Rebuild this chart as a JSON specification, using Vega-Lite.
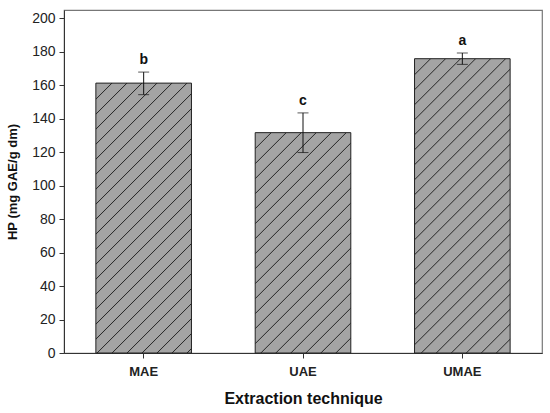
{
  "$schema": "https://vega.github.io/schema/vega-lite/v6.json",
  "width": 478,
  "height": 343,
  "autosize": "none",
  "padding": {"left": 64, "top": 10, "right": 8, "bottom": 60},
  "config": {
    "font": "Liberation Sans",
    "view": {"stroke": "#777", "strokeWidth": 1.2},
    "axis": {"grid": false, "domainColor": "#333", "tickColor": "#333", "tickSize": 5, "labelColor": "#222", "titleColor": "#111"},
    "axisY": {"values": [0, 20, 40, 60, 80, 100, 120, 140, 160, 180, 200], "labelFontSize": 14, "labelPadding": 4, "titleFontSize": 13, "titleFontWeight": "bold", "titlePadding": 12}
  },
  "data": {
    "values": [
      {"technique": "MAE", "hp": 161.3, "lo": 154.4, "hi": 167.9, "group": "b"},
      {"technique": "UAE", "hp": 131.7, "lo": 119.8, "hi": 143.5, "group": "c"},
      {"technique": "UMAE", "hp": 175.9, "lo": 172.5, "hi": 179.3, "group": "a"}
    ]
  },
  "encoding": {
    "x": {
      "field": "technique",
      "type": "nominal",
      "title": "Extraction technique",
      "scale": {"paddingInner": 0.4, "paddingOuter": 0.2},
      "axis": {"labelAngle": 0, "labelFontSize": 13, "labelFontWeight": "bold", "labelPadding": 7, "titleFontSize": 16, "titleFontWeight": "bold", "titlePadding": 12}
    }
  },
  "layer": [
    {
      "mark": {"type": "bar", "stroke": "#222", "strokeWidth": 1},
      "encoding": {
        "y": {
          "field": "hp",
          "type": "quantitative",
          "title": "HP (mg GAE/g dm)",
          "scale": {"domain": [0, 205], "nice": false}
        },
        "fill": {
          "condition": [
            {"test": "datum.technique === 'MAE'", "value": {"gradient": "linear", "x1": 0, "y1": 0, "x2": 0.4897, "y2": 1.3827, "stops": [
              {"offset": 0, "color": "#a4a4a4"},
              {"offset": 0.0357, "color": "#a4a4a4"}, {"offset": 0.0382, "color": "#2a2a2a"}, {"offset": 0.0407, "color": "#a4a4a4"},
              {"offset": 0.0714, "color": "#a4a4a4"}, {"offset": 0.0739, "color": "#2a2a2a"}, {"offset": 0.0764, "color": "#a4a4a4"},
              {"offset": 0.1071, "color": "#a4a4a4"}, {"offset": 0.1096, "color": "#2a2a2a"}, {"offset": 0.1121, "color": "#a4a4a4"},
              {"offset": 0.1429, "color": "#a4a4a4"}, {"offset": 0.1454, "color": "#2a2a2a"}, {"offset": 0.1479, "color": "#a4a4a4"},
              {"offset": 0.1786, "color": "#a4a4a4"}, {"offset": 0.1811, "color": "#2a2a2a"}, {"offset": 0.1836, "color": "#a4a4a4"},
              {"offset": 0.2143, "color": "#a4a4a4"}, {"offset": 0.2168, "color": "#2a2a2a"}, {"offset": 0.2193, "color": "#a4a4a4"},
              {"offset": 0.25, "color": "#a4a4a4"}, {"offset": 0.2525, "color": "#2a2a2a"}, {"offset": 0.255, "color": "#a4a4a4"},
              {"offset": 0.2857, "color": "#a4a4a4"}, {"offset": 0.2882, "color": "#2a2a2a"}, {"offset": 0.2907, "color": "#a4a4a4"},
              {"offset": 0.3214, "color": "#a4a4a4"}, {"offset": 0.3239, "color": "#2a2a2a"}, {"offset": 0.3264, "color": "#a4a4a4"},
              {"offset": 0.3571, "color": "#a4a4a4"}, {"offset": 0.3596, "color": "#2a2a2a"}, {"offset": 0.3621, "color": "#a4a4a4"},
              {"offset": 0.3929, "color": "#a4a4a4"}, {"offset": 0.3954, "color": "#2a2a2a"}, {"offset": 0.3979, "color": "#a4a4a4"},
              {"offset": 0.4286, "color": "#a4a4a4"}, {"offset": 0.4311, "color": "#2a2a2a"}, {"offset": 0.4336, "color": "#a4a4a4"},
              {"offset": 0.4643, "color": "#a4a4a4"}, {"offset": 0.4668, "color": "#2a2a2a"}, {"offset": 0.4693, "color": "#a4a4a4"},
              {"offset": 0.5, "color": "#a4a4a4"}, {"offset": 0.5025, "color": "#2a2a2a"}, {"offset": 0.505, "color": "#a4a4a4"},
              {"offset": 0.5357, "color": "#a4a4a4"}, {"offset": 0.5382, "color": "#2a2a2a"}, {"offset": 0.5407, "color": "#a4a4a4"},
              {"offset": 0.5714, "color": "#a4a4a4"}, {"offset": 0.5739, "color": "#2a2a2a"}, {"offset": 0.5764, "color": "#a4a4a4"},
              {"offset": 0.6071, "color": "#a4a4a4"}, {"offset": 0.6096, "color": "#2a2a2a"}, {"offset": 0.6121, "color": "#a4a4a4"},
              {"offset": 0.6429, "color": "#a4a4a4"}, {"offset": 0.6454, "color": "#2a2a2a"}, {"offset": 0.6479, "color": "#a4a4a4"},
              {"offset": 0.6786, "color": "#a4a4a4"}, {"offset": 0.6811, "color": "#2a2a2a"}, {"offset": 0.6836, "color": "#a4a4a4"},
              {"offset": 0.7143, "color": "#a4a4a4"}, {"offset": 0.7168, "color": "#2a2a2a"}, {"offset": 0.7193, "color": "#a4a4a4"},
              {"offset": 0.75, "color": "#a4a4a4"}, {"offset": 0.7525, "color": "#2a2a2a"}, {"offset": 0.755, "color": "#a4a4a4"},
              {"offset": 0.7857, "color": "#a4a4a4"}, {"offset": 0.7882, "color": "#2a2a2a"}, {"offset": 0.7907, "color": "#a4a4a4"},
              {"offset": 0.8214, "color": "#a4a4a4"}, {"offset": 0.8239, "color": "#2a2a2a"}, {"offset": 0.8264, "color": "#a4a4a4"},
              {"offset": 0.8571, "color": "#a4a4a4"}, {"offset": 0.8596, "color": "#2a2a2a"}, {"offset": 0.8621, "color": "#a4a4a4"},
              {"offset": 0.8929, "color": "#a4a4a4"}, {"offset": 0.8954, "color": "#2a2a2a"}, {"offset": 0.8979, "color": "#a4a4a4"},
              {"offset": 0.9286, "color": "#a4a4a4"}, {"offset": 0.9311, "color": "#2a2a2a"}, {"offset": 0.9336, "color": "#a4a4a4"},
              {"offset": 0.9643, "color": "#a4a4a4"}, {"offset": 0.9668, "color": "#2a2a2a"}, {"offset": 0.9693, "color": "#a4a4a4"},
              {"offset": 1, "color": "#a4a4a4"}
            ]}},
            {"test": "datum.technique === 'UAE'", "value": {"gradient": "linear", "x1": 0, "y1": 0, "x2": 0.6957, "y2": 1.6039, "stops": [
              {"offset": 0, "color": "#a4a4a4"},
              {"offset": 0.0357, "color": "#a4a4a4"}, {"offset": 0.0382, "color": "#2a2a2a"}, {"offset": 0.0407, "color": "#a4a4a4"},
              {"offset": 0.0714, "color": "#a4a4a4"}, {"offset": 0.0739, "color": "#2a2a2a"}, {"offset": 0.0764, "color": "#a4a4a4"},
              {"offset": 0.1071, "color": "#a4a4a4"}, {"offset": 0.1096, "color": "#2a2a2a"}, {"offset": 0.1121, "color": "#a4a4a4"},
              {"offset": 0.1429, "color": "#a4a4a4"}, {"offset": 0.1454, "color": "#2a2a2a"}, {"offset": 0.1479, "color": "#a4a4a4"},
              {"offset": 0.1786, "color": "#a4a4a4"}, {"offset": 0.1811, "color": "#2a2a2a"}, {"offset": 0.1836, "color": "#a4a4a4"},
              {"offset": 0.2143, "color": "#a4a4a4"}, {"offset": 0.2168, "color": "#2a2a2a"}, {"offset": 0.2193, "color": "#a4a4a4"},
              {"offset": 0.25, "color": "#a4a4a4"}, {"offset": 0.2525, "color": "#2a2a2a"}, {"offset": 0.255, "color": "#a4a4a4"},
              {"offset": 0.2857, "color": "#a4a4a4"}, {"offset": 0.2882, "color": "#2a2a2a"}, {"offset": 0.2907, "color": "#a4a4a4"},
              {"offset": 0.3214, "color": "#a4a4a4"}, {"offset": 0.3239, "color": "#2a2a2a"}, {"offset": 0.3264, "color": "#a4a4a4"},
              {"offset": 0.3571, "color": "#a4a4a4"}, {"offset": 0.3596, "color": "#2a2a2a"}, {"offset": 0.3621, "color": "#a4a4a4"},
              {"offset": 0.3929, "color": "#a4a4a4"}, {"offset": 0.3954, "color": "#2a2a2a"}, {"offset": 0.3979, "color": "#a4a4a4"},
              {"offset": 0.4286, "color": "#a4a4a4"}, {"offset": 0.4311, "color": "#2a2a2a"}, {"offset": 0.4336, "color": "#a4a4a4"},
              {"offset": 0.4643, "color": "#a4a4a4"}, {"offset": 0.4668, "color": "#2a2a2a"}, {"offset": 0.4693, "color": "#a4a4a4"},
              {"offset": 0.5, "color": "#a4a4a4"}, {"offset": 0.5025, "color": "#2a2a2a"}, {"offset": 0.505, "color": "#a4a4a4"},
              {"offset": 0.5357, "color": "#a4a4a4"}, {"offset": 0.5382, "color": "#2a2a2a"}, {"offset": 0.5407, "color": "#a4a4a4"},
              {"offset": 0.5714, "color": "#a4a4a4"}, {"offset": 0.5739, "color": "#2a2a2a"}, {"offset": 0.5764, "color": "#a4a4a4"},
              {"offset": 0.6071, "color": "#a4a4a4"}, {"offset": 0.6096, "color": "#2a2a2a"}, {"offset": 0.6121, "color": "#a4a4a4"},
              {"offset": 0.6429, "color": "#a4a4a4"}, {"offset": 0.6454, "color": "#2a2a2a"}, {"offset": 0.6479, "color": "#a4a4a4"},
              {"offset": 0.6786, "color": "#a4a4a4"}, {"offset": 0.6811, "color": "#2a2a2a"}, {"offset": 0.6836, "color": "#a4a4a4"},
              {"offset": 0.7143, "color": "#a4a4a4"}, {"offset": 0.7168, "color": "#2a2a2a"}, {"offset": 0.7193, "color": "#a4a4a4"},
              {"offset": 0.75, "color": "#a4a4a4"}, {"offset": 0.7525, "color": "#2a2a2a"}, {"offset": 0.755, "color": "#a4a4a4"},
              {"offset": 0.7857, "color": "#a4a4a4"}, {"offset": 0.7882, "color": "#2a2a2a"}, {"offset": 0.7907, "color": "#a4a4a4"},
              {"offset": 0.8214, "color": "#a4a4a4"}, {"offset": 0.8239, "color": "#2a2a2a"}, {"offset": 0.8264, "color": "#a4a4a4"},
              {"offset": 0.8571, "color": "#a4a4a4"}, {"offset": 0.8596, "color": "#2a2a2a"}, {"offset": 0.8621, "color": "#a4a4a4"},
              {"offset": 0.8929, "color": "#a4a4a4"}, {"offset": 0.8954, "color": "#2a2a2a"}, {"offset": 0.8979, "color": "#a4a4a4"},
              {"offset": 0.9286, "color": "#a4a4a4"}, {"offset": 0.9311, "color": "#2a2a2a"}, {"offset": 0.9336, "color": "#a4a4a4"},
              {"offset": 0.9643, "color": "#a4a4a4"}, {"offset": 0.9668, "color": "#2a2a2a"}, {"offset": 0.9693, "color": "#a4a4a4"},
              {"offset": 1, "color": "#a4a4a4"}
            ]}}
          ],
          "value": {"gradient": "linear", "x1": 0, "y1": 0, "x2": 0.4193, "y2": 1.2909, "stops": [
            {"offset": 0, "color": "#a4a4a4"},
            {"offset": 0.0357, "color": "#a4a4a4"}, {"offset": 0.0382, "color": "#2a2a2a"}, {"offset": 0.0407, "color": "#a4a4a4"},
            {"offset": 0.0714, "color": "#a4a4a4"}, {"offset": 0.0739, "color": "#2a2a2a"}, {"offset": 0.0764, "color": "#a4a4a4"},
            {"offset": 0.1071, "color": "#a4a4a4"}, {"offset": 0.1096, "color": "#2a2a2a"}, {"offset": 0.1121, "color": "#a4a4a4"},
            {"offset": 0.1429, "color": "#a4a4a4"}, {"offset": 0.1454, "color": "#2a2a2a"}, {"offset": 0.1479, "color": "#a4a4a4"},
            {"offset": 0.1786, "color": "#a4a4a4"}, {"offset": 0.1811, "color": "#2a2a2a"}, {"offset": 0.1836, "color": "#a4a4a4"},
            {"offset": 0.2143, "color": "#a4a4a4"}, {"offset": 0.2168, "color": "#2a2a2a"}, {"offset": 0.2193, "color": "#a4a4a4"},
            {"offset": 0.25, "color": "#a4a4a4"}, {"offset": 0.2525, "color": "#2a2a2a"}, {"offset": 0.255, "color": "#a4a4a4"},
            {"offset": 0.2857, "color": "#a4a4a4"}, {"offset": 0.2882, "color": "#2a2a2a"}, {"offset": 0.2907, "color": "#a4a4a4"},
            {"offset": 0.3214, "color": "#a4a4a4"}, {"offset": 0.3239, "color": "#2a2a2a"}, {"offset": 0.3264, "color": "#a4a4a4"},
            {"offset": 0.3571, "color": "#a4a4a4"}, {"offset": 0.3596, "color": "#2a2a2a"}, {"offset": 0.3621, "color": "#a4a4a4"},
            {"offset": 0.3929, "color": "#a4a4a4"}, {"offset": 0.3954, "color": "#2a2a2a"}, {"offset": 0.3979, "color": "#a4a4a4"},
            {"offset": 0.4286, "color": "#a4a4a4"}, {"offset": 0.4311, "color": "#2a2a2a"}, {"offset": 0.4336, "color": "#a4a4a4"},
            {"offset": 0.4643, "color": "#a4a4a4"}, {"offset": 0.4668, "color": "#2a2a2a"}, {"offset": 0.4693, "color": "#a4a4a4"},
            {"offset": 0.5, "color": "#a4a4a4"}, {"offset": 0.5025, "color": "#2a2a2a"}, {"offset": 0.505, "color": "#a4a4a4"},
            {"offset": 0.5357, "color": "#a4a4a4"}, {"offset": 0.5382, "color": "#2a2a2a"}, {"offset": 0.5407, "color": "#a4a4a4"},
            {"offset": 0.5714, "color": "#a4a4a4"}, {"offset": 0.5739, "color": "#2a2a2a"}, {"offset": 0.5764, "color": "#a4a4a4"},
            {"offset": 0.6071, "color": "#a4a4a4"}, {"offset": 0.6096, "color": "#2a2a2a"}, {"offset": 0.6121, "color": "#a4a4a4"},
            {"offset": 0.6429, "color": "#a4a4a4"}, {"offset": 0.6454, "color": "#2a2a2a"}, {"offset": 0.6479, "color": "#a4a4a4"},
            {"offset": 0.6786, "color": "#a4a4a4"}, {"offset": 0.6811, "color": "#2a2a2a"}, {"offset": 0.6836, "color": "#a4a4a4"},
            {"offset": 0.7143, "color": "#a4a4a4"}, {"offset": 0.7168, "color": "#2a2a2a"}, {"offset": 0.7193, "color": "#a4a4a4"},
            {"offset": 0.75, "color": "#a4a4a4"}, {"offset": 0.7525, "color": "#2a2a2a"}, {"offset": 0.755, "color": "#a4a4a4"},
            {"offset": 0.7857, "color": "#a4a4a4"}, {"offset": 0.7882, "color": "#2a2a2a"}, {"offset": 0.7907, "color": "#a4a4a4"},
            {"offset": 0.8214, "color": "#a4a4a4"}, {"offset": 0.8239, "color": "#2a2a2a"}, {"offset": 0.8264, "color": "#a4a4a4"},
            {"offset": 0.8571, "color": "#a4a4a4"}, {"offset": 0.8596, "color": "#2a2a2a"}, {"offset": 0.8621, "color": "#a4a4a4"},
            {"offset": 0.8929, "color": "#a4a4a4"}, {"offset": 0.8954, "color": "#2a2a2a"}, {"offset": 0.8979, "color": "#a4a4a4"},
            {"offset": 0.9286, "color": "#a4a4a4"}, {"offset": 0.9311, "color": "#2a2a2a"}, {"offset": 0.9336, "color": "#a4a4a4"},
            {"offset": 0.9643, "color": "#a4a4a4"}, {"offset": 0.9668, "color": "#2a2a2a"}, {"offset": 0.9693, "color": "#a4a4a4"},
            {"offset": 1, "color": "#a4a4a4"}
          ]}
        }
      }
    },
    {
      "mark": {"type": "errorbar", "ticks": {"size": 11, "color": "#111", "strokeWidth": 1}, "rule": {"color": "#111", "strokeWidth": 1}},
      "encoding": {
        "y": {"field": "lo", "type": "quantitative", "title": "HP (mg GAE/g dm)"},
        "y2": {"field": "hi"}
      }
    },
    {
      "mark": {"type": "text", "baseline": "alphabetic", "dy": -8, "fontSize": 14, "fontWeight": "bold", "color": "#111"},
      "encoding": {
        "y": {"field": "hi", "type": "quantitative", "title": "HP (mg GAE/g dm)"},
        "text": {"field": "group", "type": "nominal"}
      }
    }
  ]
}
